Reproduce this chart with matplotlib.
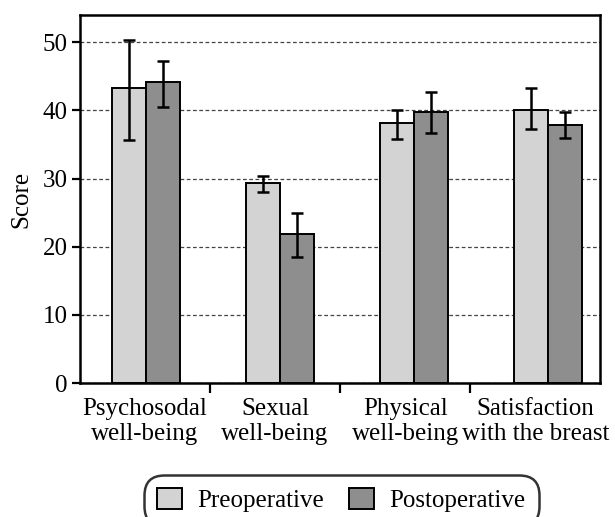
import numpy as np
import matplotlib
matplotlib.use("Agg")
import matplotlib.pyplot as plt

categories = ["Psychosodal\nwell-being", "Sexual\nwell-being",
              "Physical\nwell-being", "Satisfaction\nwith the breast"]
pre_mean = [43.3, 29.4, 38.2, 40.0]
pre_low = [35.7, 28.1, 35.8, 37.3]
pre_high = [50.4, 30.4, 40.1, 43.3]
post_mean = [44.1, 21.8, 39.7, 37.9]
post_low = [40.5, 18.5, 36.7, 35.9]
post_high = [47.2, 24.9, 42.7, 39.8]

plt.rcParams["font.family"] = ["Liberation Serif", "DejaVu Serif"]
plt.rcParams["font.size"] = 18

fig = plt.figure(figsize=(6.15, 5.17), dpi=100)
ax = fig.add_axes([0.130, 0.259, 0.846, 0.712])

idx = np.arange(len(categories))
group_x = idx * 1.03 + 0.008
width = 0.26

pre_err = [np.subtract(pre_mean, pre_low), np.subtract(pre_high, pre_mean)]
post_err = [np.subtract(post_mean, post_low), np.subtract(post_high, post_mean)]

err_kw = dict(ecolor="black", elinewidth=1.8, capsize=4, capthick=1.8)
ax.bar(group_x - width / 2, pre_mean, width, color="#d3d3d3", edgecolor="black",
       linewidth=1.4, yerr=pre_err, error_kw=err_kw, label="Preoperative", zorder=2)
ax.bar(group_x + width / 2, post_mean, width, color="#8e8e8e", edgecolor="black",
       linewidth=1.4, yerr=post_err, error_kw=err_kw, label="Postoperative", zorder=2)

ax.set_xlim(-0.5, 3.5)
ax.set_ylim(0, 54)
ax.set_yticks([0, 10, 20, 30, 40, 50])
ax.yaxis.grid(True, linestyle=(0, (3, 2)), color="#444444", linewidth=0.9)
ax.set_axisbelow(True)

ax.set_xticks(idx)
ax.set_xticklabels(categories, linespacing=1.15)
ax.set_xticks(idx[:-1] + 0.5, minor=True)
ax.tick_params(axis="x", which="major", length=0, pad=11)
ax.tick_params(axis="x", which="minor", length=7.5, width=1.6, direction="out")
ax.tick_params(axis="y", length=6, width=1.6, direction="out", pad=3)

for s in ax.spines.values():
    s.set_linewidth(1.8)

ax.set_ylabel("Score", labelpad=7)

leg = fig.legend(loc="upper center", bbox_to_anchor=(0.555, 0.099), ncol=2,
                 frameon=True, fancybox=True, handlelength=1.0, handleheight=0.9,
                 handletextpad=0.6, columnspacing=1.0, borderpad=0.4)
frame = leg.get_frame()
frame.set_edgecolor("black")
frame.set_linewidth(1.8)
frame.set_boxstyle("round,pad=0.15,rounding_size=0.8")

fig.savefig("out.png", dpi=100)
